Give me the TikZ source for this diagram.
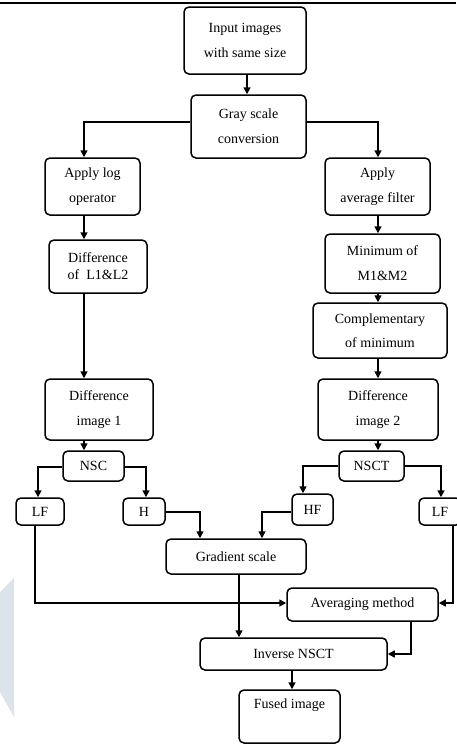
\documentclass[tikz,border=0pt]{standalone}
\usepackage{fontspec}
\setmainfont{Liberation Serif}
\usetikzlibrary{arrows.meta}
\begin{document}
\begin{tikzpicture}[x=1pt,y=-1pt,
  box/.style={draw,line width=1.5pt,rounded corners=5pt,align=center,inner sep=0pt,
    font=\fontsize{14}{25}\selectfont},
  arr/.style={line width=1.5pt,-{Triangle[length=7pt,width=7pt]}},
  ln/.style={line width=1.5pt}]
\useasboundingbox (0,0) rectangle (456,744);
\fill[fill={rgb,255:red,221;green,227;blue,234}] (0,592) -- (14,578) -- (14,717) -- (0,692) -- cycle;
\draw[line width=2pt] (0,2.7) -- (456,2.7);

\node[box,minimum width=122pt,minimum height=67pt] (input) at (245,40.5) {Input images\\with same size};
\node[box,minimum width=115pt,minimum height=63pt] (gray) at (248.5,126.5) {Gray scale\\conversion};
\node[box,minimum width=95pt,minimum height=57pt] (applog) at (92.5,186.5) {Apply log\\operator};
\node[box,minimum width=105pt,minimum height=57pt] (avg) at (377.5,186.5) {Apply\\average filter};
\node[box,minimum width=98pt,minimum height=53pt,font=\fontsize{14}{17}\selectfont] (diffL) at (98,266.5) {Difference\\of~~L1\&L2};
\node[box,minimum width=115pt,minimum height=59pt] (minM) at (382.5,263.5) {Minimum of\\M1\&M2};
\node[box,minimum width=134pt,minimum height=55pt,font=\fontsize{14}{24}\selectfont] (comp) at (380,330.5) {Complementary\\of minimum};
\node[box,minimum width=108pt,minimum height=61pt] (diff1) at (99,409.5) {Difference\\image 1};
\node[box,minimum width=120pt,minimum height=61pt] (diff2) at (378,409.5) {Difference\\image 2};
\node[box,minimum width=61pt,minimum height=30pt] (nsc) at (93.5,466) {NSC};
\node[box,minimum width=65pt,minimum height=30pt] (nsct) at (371.5,466) {NSCT};
\node[box,minimum width=48pt,minimum height=27pt] (lfL) at (40,511.5) {LF};
\node[box,minimum width=42pt,minimum height=27pt] (h) at (144,511.5) {H};
\node[box,minimum width=41pt,minimum height=31pt] (hf) at (312.5,509.5) {HF};
\node[box,minimum width=42pt,minimum height=27pt] (lfR) at (440,511.5) {LF};
\node[box,minimum width=140pt,minimum height=35pt] (grad) at (236,556.5) {Gradient scale};
\node[box,minimum width=151pt,minimum height=33pt] (avgm) at (362.5,604.5) {Averaging method};
\node[box,minimum width=187pt,minimum height=32pt] (inv) at (293.5,654) {Inverse NSCT};
\node[box,minimum width=101pt,minimum height=53pt] (fused) at (289.5,716.5) {Fused image\\\mbox{}};

\draw[arr] (input.south -| 247,0) -- (gray.north -| 247,0);
\draw[arr] (gray.west |- 0,122) -| (applog.north -| 84,0);
\draw[arr] (gray.east |- 0,122) -| (avg.north -| 378,0);
\draw[arr] (applog.south -| 84,0) -- (diffL.north -| 84,0);
\draw[arr] (avg.south -| 378,0) -- (minM.north -| 378,0);
\draw[arr] (diffL.south -| 84,0) -- (diff1.north -| 84,0);
\draw[arr] (minM.south -| 378,0) -- (comp.north -| 378,0);
\draw[arr] (comp.south -| 378,0) -- (diff2.north -| 378,0);
\draw[arr] (diff1.south -| 84,0) -- (nsc.north -| 84,0);
\draw[arr] (diff2.south -| 378,0) -- (nsct.north -| 378,0);
\draw[arr] (nsc.west |- 0,467) -| (lfL.north -| 38,0);
\draw[arr] (nsc.east |- 0,467) -| (h.north -| 146,0);
\draw[arr] (nsct.west |- 0,466) -| (hf.north -| 303,0);
\draw[arr] (nsct.east |- 0,466) -| (lfR.north -| 441,0);
\draw[arr] (h.east |- 0,512) -| (grad.north -| 200,0);
\draw[arr] (hf.west |- 0,512) -| (grad.north -| 262,0);
\draw[arr] (lfL.south -| 35,0) |- (avgm.west |- 0,603);
\draw[arr] (lfR.south -| 453,0) |- (avgm.east |- 0,603);
\draw[arr] (grad.south -| 239,0) -- (inv.north -| 239,0);
\draw[arr] (avgm.south -| 411,0) |- (inv.east |- 0,654);
\draw[arr] (inv.south -| 292,0) -- (fused.north -| 292,0);
\end{tikzpicture}
\end{document}
